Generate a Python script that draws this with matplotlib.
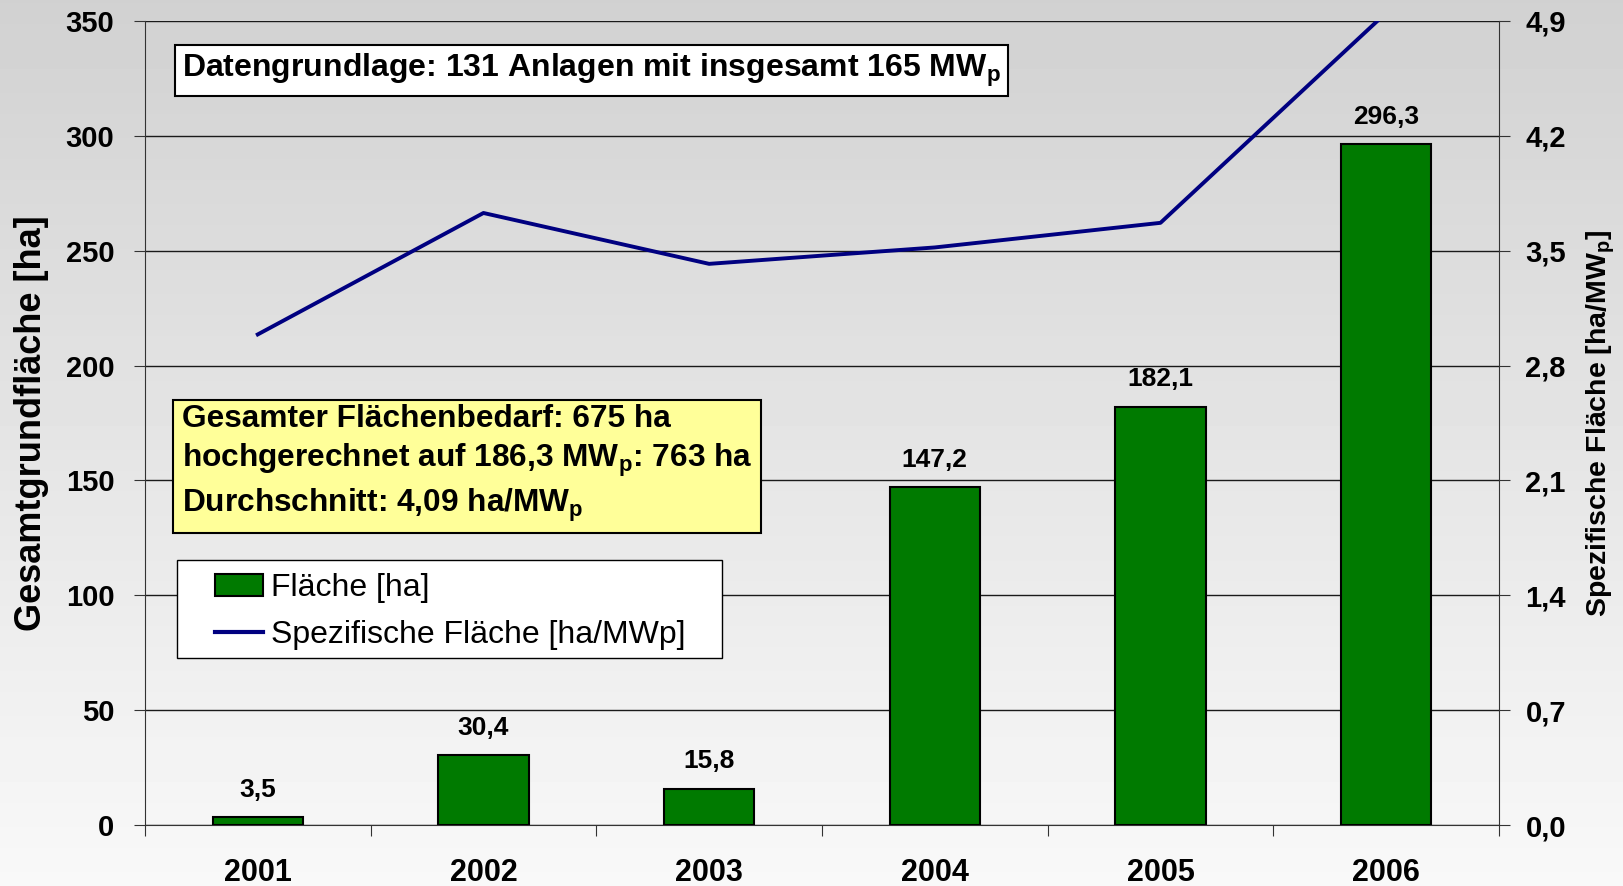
import numpy as np
import matplotlib
matplotlib.use("Agg")
import matplotlib.pyplot as plt
from matplotlib.patches import Patch, Rectangle
from matplotlib.lines import Line2D

# ── Data ──────────────────────────────────────────────────────────────────────

YEARS        = ["2001", "2002", "2003", "2004", "2005", "2006"]
FLAECHE_HA   = [3.5, 30.4, 15.8, 147.2, 182.1, 296.3]      # bars, left axis
SPEZ_FLAECHE = [2.99, 3.73, 3.42, 3.52, 3.67, 4.95]        # line, right axis (ha/MWp)

LEFT_TICKS   = [0, 50, 100, 150, 200, 250, 300, 350]
RIGHT_TICKS  = [0.0, 0.7, 1.4, 2.1, 2.8, 3.5, 4.2, 4.9]
RIGHT_LABELS = ["0,0", "0,7", "1,4", "2,1", "2,8", "3,5", "4,2", "4,9"]

BAR_COLOR  = "#007A00"
LINE_COLOR = "#000080"

# ── Style ─────────────────────────────────────────────────────────────────────

plt.rcParams["font.family"] = ["Liberation Sans", "DejaVu Sans"]
plt.rcParams["mathtext.fontset"] = "custom"
plt.rcParams["mathtext.rm"] = "Liberation Sans"
plt.rcParams["mathtext.bf"] = "Liberation Sans:bold"

fig = plt.figure(figsize=(16.23, 8.86), dpi=100)

# gray-to-white vertical gradient behind everything
bg = fig.add_axes([0, 0, 1, 1], zorder=-10)
grad = np.linspace(0.82, 0.975, 256).reshape(-1, 1)
bg.imshow(grad, aspect="auto", cmap="gray", vmin=0, vmax=1, extent=[0, 1, 0, 1])
bg.axis("off")

ax = fig.add_axes([0.0893, 0.0688, 0.8343, 0.9075])
ax.set_facecolor("none")
x = np.arange(len(YEARS))

# ── Bars (left axis) ──────────────────────────────────────────────────────────

ax.bar(x, FLAECHE_HA, width=0.4, color=BAR_COLOR, edgecolor="black", lw=1.5, zorder=3)
for xi, v in zip(x, FLAECHE_HA):
    ax.annotate(f"{v:.1f}".replace(".", ","), (xi, v), xytext=(0, 11),
                textcoords="offset points", ha="center", va="bottom",
                fontsize=19, fontweight="bold", zorder=4)

ax.set_xlim(-0.5, len(YEARS) - 0.5)
ax.set_ylim(0, 350)
ax.set_yticks(LEFT_TICKS)
ax.set_yticklabels([str(t) for t in LEFT_TICKS], fontsize=21, fontweight="bold")
ax.yaxis.grid(True, color="#1a1a1a", lw=1)
ax.set_axisbelow(True)

ax.set_xticks(np.arange(-0.5, len(YEARS), 1))
ax.set_xticklabels([])
ax.set_xticks(x, minor=True)
ax.set_xticklabels(YEARS, minor=True, fontsize=22, fontweight="bold")
ax.tick_params(axis="x", which="major", length=8, direction="out", color="#333333")
ax.tick_params(axis="x", which="minor", length=0, pad=24)
ax.tick_params(axis="y", length=8, pad=14, color="#333333")

for s in ["top", "right"]:
    ax.spines[s].set_visible(False)
for s in ["left", "bottom"]:
    ax.spines[s].set_color("#333333")

ax.set_ylabel("Gesamtgrundfläche [ha]", fontsize=26, fontweight="bold", labelpad=12)

# ── Line (right axis) ─────────────────────────────────────────────────────────

ax2 = ax.twinx()
ax2.plot(x, SPEZ_FLAECHE, color=LINE_COLOR, lw=2.8, zorder=5)
ax2.set_ylim(0, 4.9)
ax2.set_yticks(RIGHT_TICKS)
ax2.set_yticklabels(RIGHT_LABELS, fontsize=21, fontweight="bold")
ax2.tick_params(axis="y", length=8, pad=11, color="#333333")
for s in ["top", "left", "bottom"]:
    ax2.spines[s].set_visible(False)
ax2.spines["right"].set_color("#333333")
ax2.set_ylabel("Spezifische Fläche [ha/MW$_\\mathbf{p}$]", fontsize=20.5,
               fontweight="bold", labelpad=13)

# ── Text boxes ────────────────────────────────────────────────────────────────

ax2.text(0.0273, 0.9384, "Datengrundlage: 131 Anlagen mit insgesamt 165 MW$_\\mathbf{p}$",
         transform=ax.transAxes, ha="left", va="center", fontsize=23, fontweight="bold",
         bbox=dict(boxstyle="square,pad=0.22", fc="white", ec="black", lw=1.5), zorder=10)

ax2.text(0.0273, 0.524,
         "Gesamter Flächenbedarf: 675 ha\n"
         "hochgerechnet auf 186,3 MW$_\\mathbf{p}$: 763 ha\n"
         "Durchschnitt: 4,09 ha/MW$_\\mathbf{p}$",
         transform=ax.transAxes, ha="left", va="top", fontsize=22.8, fontweight="bold",
         linespacing=1.3,
         bbox=dict(boxstyle="square,pad=0.28", fc="#FFFF99", ec="black", lw=1.5), zorder=10)

# ── Legend ────────────────────────────────────────────────────────────────────

# white frame drawn separately so the entries can sit further in from the left edge
ax2.add_patch(Rectangle((0.0236, 0.2077), 0.4026, 0.1219, transform=ax.transAxes,
                        fc="white", ec="black", lw=1.0, zorder=9))
handles = [Patch(facecolor=BAR_COLOR, edgecolor="black", lw=1.5),
           Line2D([0], [0], color=LINE_COLOR, lw=3)]
leg = ax2.legend(handles, ["Fläche [ha]", "Spezifische Fläche [ha/MWp]"],
                 loc="upper left", bbox_to_anchor=(0.0517, 0.3136), fontsize=23,
                 frameon=False, borderpad=0, handlelength=1.5, handletextpad=0.26,
                 labelspacing=0.55, borderaxespad=0)
leg.set_zorder(10)

plt.savefig("out.png", dpi=100)
plt.close()
